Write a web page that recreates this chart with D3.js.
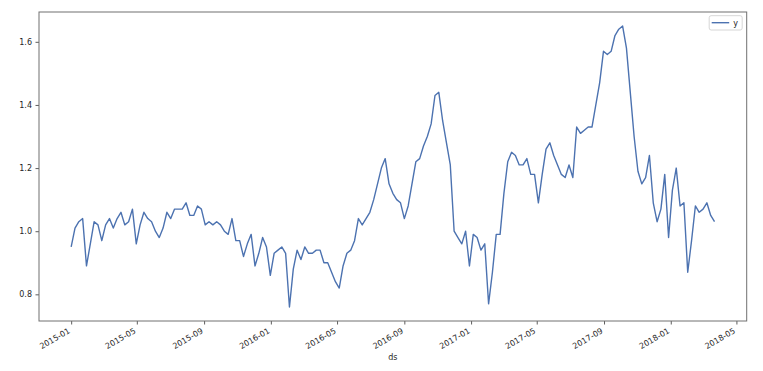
<!DOCTYPE html>
<html>
<head>
<meta charset="utf-8">
<script src="https://cdn.jsdelivr.net/npm/d3@7"></script>
<style>
    body { margin: 0; background: #fff; }
    svg text { font-family: "DejaVu Sans", sans-serif; fill: #262626; }
</style>
</head>
<body>
<div id="chart"></div>
<script>
'use strict';

// weekly series, first week below
var firstWeek = '2015-01-01'
var values = [
    0.95, 1.01, 1.03, 1.04, 0.89, 0.96, 1.03, 1.02, 0.97, 1.02,
    1.04, 1.01, 1.04, 1.06, 1.02, 1.03, 1.07, 0.96, 1.02, 1.06,
    1.04, 1.03, 1.00, 0.98, 1.01, 1.06, 1.04, 1.07, 1.07, 1.07,
    1.09, 1.05, 1.05, 1.08, 1.07, 1.02, 1.03, 1.02, 1.03, 1.02,
    1.00, 0.99, 1.04, 0.97, 0.97, 0.92, 0.96, 0.99, 0.89, 0.93,
    0.98, 0.95, 0.86, 0.93, 0.94, 0.95, 0.93, 0.76, 0.88, 0.94,
    0.91, 0.95, 0.93, 0.93, 0.94, 0.94, 0.90, 0.90, 0.87, 0.84,
    0.82, 0.89, 0.93, 0.94, 0.97, 1.04, 1.02, 1.04, 1.06, 1.10,
    1.15, 1.20, 1.23, 1.15, 1.12, 1.10, 1.09, 1.04, 1.08, 1.15,
    1.22, 1.23, 1.27, 1.30, 1.34, 1.43, 1.44, 1.35, 1.28, 1.21,
    1.00, 0.98, 0.96, 1.00, 0.89, 0.99, 0.98, 0.94, 0.96, 0.77,
    0.87, 0.99, 0.99, 1.12, 1.22, 1.25, 1.24, 1.21, 1.21, 1.23,
    1.18, 1.18, 1.09, 1.18, 1.26, 1.28, 1.24, 1.21, 1.18, 1.17,
    1.21, 1.17, 1.33, 1.31, 1.32, 1.33, 1.33, 1.40, 1.47, 1.57,
    1.56, 1.57, 1.62, 1.64, 1.65, 1.58, 1.44, 1.30, 1.19, 1.15,
    1.17, 1.24, 1.09, 1.03, 1.07, 1.18, 0.98, 1.13, 1.20, 1.08,
    1.09, 0.87, 0.97, 1.08, 1.06, 1.07, 1.09, 1.05, 1.03
]
var xTickLabels = ['2015-01', '2015-05', '2015-09', '2016-01', '2016-05', '2016-09',
    '2017-01', '2017-05', '2017-09', '2018-01', '2018-05']
var yTickValues = [0.8, 1.0, 1.2, 1.4, 1.6]
var seriesName = 'y'
var xLabel = 'ds'

var width = 763
var height = 371
var padding = { left: 39, right: 16.3, top: 12, bottom: 50 }
var innerW = width - padding.left - padding.right
var innerH = height - padding.top - padding.bottom
var fontSize = 8

var parseDay = d3.timeParse('%Y-%m-%d')
var parseMonth = d3.timeParse('%Y-%m')
var start = parseDay(firstWeek)
var data = values.map(function(v, i) {
    return { date: d3.timeDay.offset(start, 7 * i), value: v }
})

// matplotlib style 5% margins
var tExt = d3.extent(data, function(d) { return d.date })
var tPad = (tExt[1] - tExt[0]) * 0.05
var vExt = d3.extent(values)
var vPad = (vExt[1] - vExt[0]) * 0.05

var xScale = d3.scaleTime()
    .domain([new Date(+tExt[0] - tPad), new Date(+tExt[1] + tPad)])
    .range([0, innerW])
var yScale = d3.scaleLinear()
    .domain([vExt[0] - vPad, vExt[1] + vPad])
    .range([innerH, 0])

var svg = d3.select('#chart').append('svg')
    .attr('width', width)
    .attr('height', height)

var g = svg.append('g')
    .attr('transform', 'translate(' + padding.left + ',' + padding.top + ')')

var line = d3.line()
    .x(function(d) { return xScale(d.date) })
    .y(function(d) { return yScale(d.value) })

g.append('path')
    .datum(data)
    .attr('fill', 'none')
    .attr('stroke', '#4c72b0')
    .attr('stroke-width', 1.4)
    .attr('stroke-linejoin', 'round')
    .attr('d', line)

// x axis
var xAxis = d3.axisBottom(xScale)
    .tickValues(xTickLabels.map(function(s) { return parseMonth(s) }))
    .tickFormat(d3.timeFormat('%Y-%m'))
    .tickSize(3.5)
    .tickSizeOuter(0)

var gx = g.append('g')
    .attr('transform', 'translate(0,' + innerH + ')')
    .call(xAxis)
gx.select('.domain').remove()
gx.selectAll('line').attr('stroke', '#333').attr('stroke-width', 0.8)
gx.selectAll('text')
    .attr('font-size', fontSize)
    .attr('text-anchor', 'end')
    .attr('x', 0)
    .attr('y', 0)
    .attr('dy', 0)
    .attr('transform', 'translate(-1,11.5) rotate(-30)')
gx.attr('font-family', null)

// y axis
var yAxis = d3.axisLeft(yScale)
    .tickValues(yTickValues)
    .tickFormat(d3.format('.1f'))
    .tickSize(3.5)
    .tickSizeOuter(0)

var gy = g.append('g').call(yAxis)
gy.select('.domain').remove()
gy.selectAll('line').attr('stroke', '#333').attr('stroke-width', 0.8)
gy.selectAll('text').attr('font-size', fontSize).attr('x', -7)
gy.attr('font-family', null)

// frame
g.append('rect')
    .attr('x', 0)
    .attr('y', 0)
    .attr('width', innerW)
    .attr('height', innerH)
    .attr('fill', 'none')
    .attr('stroke', '#707070')
    .attr('stroke-width', 1)

// axis label
svg.append('text')
    .attr('x', padding.left + innerW / 2)
    .attr('y', 360)
    .attr('text-anchor', 'middle')
    .attr('font-size', fontSize)
    .text(xLabel)

// legend
var legend = g.append('g')
    .attr('transform', 'translate(' + (innerW - 37.5) + ',3.7)')
legend.append('rect')
    .attr('width', 33)
    .attr('height', 14.3)
    .attr('rx', 2)
    .attr('fill', '#fff')
    .attr('fill-opacity', 0.8)
    .attr('stroke', '#ccc')
    .attr('stroke-width', 0.8)
legend.append('line')
    .attr('x1', 2.5)
    .attr('x2', 20)
    .attr('y1', 7)
    .attr('y2', 7)
    .attr('stroke', '#4c72b0')
    .attr('stroke-width', 1.4)
legend.append('text')
    .attr('x', 24)
    .attr('y', 10)
    .attr('font-size', fontSize)
    .text(seriesName)
</script>
</body>
</html>
